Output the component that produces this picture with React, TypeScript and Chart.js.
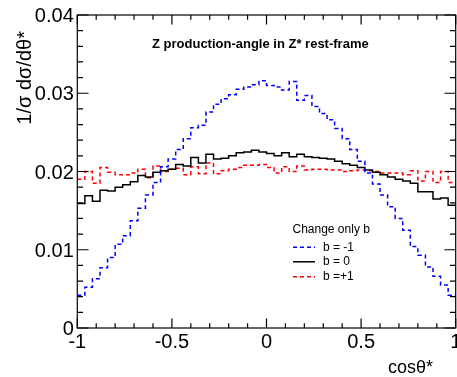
import React, { useEffect, useRef } from "react";
import { Chart, registerables } from "chart.js";

Chart.register(...registerables);

// ---------- data ----------
const X_MIN = -1;
const BIN_WIDTH = 0.04;

const blueValues = [
  0.0042, 0.0052, 0.0063, 0.0077, 0.009, 0.0107, 0.0118, 0.0137, 0.0153, 0.017,
  0.0186, 0.0206, 0.0216, 0.0228, 0.0242, 0.0256, 0.0259, 0.0276, 0.0286, 0.0293,
  0.0298, 0.0305, 0.0308, 0.0311, 0.0316, 0.031, 0.0308, 0.0304, 0.0315, 0.0291,
  0.0297, 0.0283, 0.0274, 0.0266, 0.0255, 0.0242, 0.0228, 0.0213, 0.0198, 0.0184,
  0.017, 0.0155, 0.014, 0.0125, 0.0104, 0.0093, 0.0078, 0.0066, 0.0055, 0.0042,
];

const blackValues = [
  0.0159, 0.0169, 0.0162, 0.0176, 0.0175, 0.018, 0.0183, 0.0187, 0.0195, 0.0193,
  0.0199, 0.0201, 0.0203, 0.0209, 0.0207, 0.0218, 0.0211, 0.0222, 0.0216, 0.0217,
  0.022, 0.0224, 0.0225, 0.0227, 0.0225, 0.0223, 0.022, 0.0224, 0.0219, 0.0222,
  0.0219, 0.0218, 0.0217, 0.0216, 0.0213, 0.021, 0.0208, 0.0205, 0.0202, 0.0199,
  0.0196, 0.0193, 0.019, 0.0188, 0.0185, 0.0174, 0.0174, 0.0165, 0.0166, 0.0157,
];

const redValues = [
  0.019, 0.02, 0.0185, 0.0205, 0.0199, 0.0196, 0.0196, 0.0198, 0.0203, 0.0192,
  0.0207, 0.02, 0.0203, 0.0204, 0.0196, 0.0206, 0.0197, 0.0211, 0.0197, 0.0201,
  0.0203, 0.0205, 0.0208, 0.0208, 0.0209, 0.0205, 0.0198, 0.0206, 0.02, 0.0207,
  0.0202, 0.0203, 0.0203, 0.0202, 0.0202, 0.02, 0.0201, 0.0202, 0.0201, 0.02,
  0.0198, 0.0198, 0.0198, 0.0196, 0.0201, 0.0188, 0.02, 0.0186, 0.02, 0.0186,
];

const xTickValues = [-1, -0.5, 0, 0.5, 1];
const xTickLabels = ["-1", "-0.5", "0", "0.5", "1"];
const yTickValues = [0, 0.01, 0.02, 0.03, 0.04];
const yTickLabels = ["0", "0.01", "0.02", "0.03", "0.04"];

const titleText = "Z production-angle in Z* rest-frame";
const xTitle = "cos\u03b8*";
const yTitle = "1/\u03c3 d\u03c3/d\u03b8*";
const legendHeader = "Change only b";
const seriesLabels = ["b = -1", "b = 0", "b =+1"];
const seriesColors = ["rgb(0,0,255)", "rgb(0,0,0)", "rgb(255,0,0)"];
const seriesDashes: number[][] = [[4, 3], [], [4, 3]];

function toSteps(values: number[]) {
  const pts = values.map((v, i) => ({ x: X_MIN + i * BIN_WIDTH, y: v }));
  pts.push({ x: X_MIN + values.length * BIN_WIDTH, y: values[values.length - 1] });
  return pts;
}

const FONT = '"Liberation Sans", Arial, Helvetica, sans-serif';

const decorPlugin = {
  id: "rootDecor",
  afterDraw(chart: any) {
    const ctx: CanvasRenderingContext2D = chart.ctx;
    const { left, right, top, bottom } = chart.chartArea;
    const xs = chart.scales.x;
    const ys = chart.scales.y;
    ctx.save();
    ctx.strokeStyle = "#000";
    ctx.fillStyle = "#000";
    ctx.lineWidth = 1.2;
    ctx.setLineDash([]);
    // frame
    ctx.strokeRect(left, top, right - left, bottom - top);
    // x ticks (bottom + top)
    ctx.beginPath();
    for (let k = 0; k <= 20; k++) {
      const v = -1 + k * 0.1;
      const px = xs.getPixelForValue(v);
      const len = k % 5 === 0 ? 9.4 : 4.7;
      ctx.moveTo(px, bottom);
      ctx.lineTo(px, bottom - len);
      ctx.moveTo(px, top);
      ctx.lineTo(px, top + len);
    }
    // y ticks (left + right)
    for (let k = 0; k <= 20; k++) {
      const v = k * 0.002;
      const py = ys.getPixelForValue(v);
      const len = k % 5 === 0 ? 11.3 : 5.7;
      ctx.moveTo(left, py);
      ctx.lineTo(left + len, py);
      ctx.moveTo(right, py);
      ctx.lineTo(right - len, py);
    }
    ctx.stroke();

    // tick labels
    ctx.font = `20px ${FONT}`;
    ctx.textBaseline = "alphabetic";
    ctx.textAlign = "center";
    xTickValues.forEach((v, i) => {
      ctx.fillText(xTickLabels[i], xs.getPixelForValue(v), bottom + 20);
    });
    ctx.textAlign = "right";
    yTickValues.forEach((v, i) => {
      ctx.fillText(yTickLabels[i], left - 3.5, ys.getPixelForValue(v) + 7);
    });

    // axis titles
    ctx.font = `18px ${FONT}`;
    ctx.textAlign = "right";
    ctx.fillText(xTitle, 433, 373);
    ctx.save();
    ctx.font = `20px ${FONT}`;
    ctx.translate(30.5, 31);
    ctx.rotate(-Math.PI / 2);
    ctx.textAlign = "right";
    ctx.fillText(yTitle, 0, 0);
    ctx.restore();

    // title
    ctx.font = `bold 13px ${FONT}`;
    ctx.textAlign = "left";
    ctx.fillText(titleText, 152, 47.5);

    // legend
    ctx.font = `12px ${FONT}`;
    ctx.fillText(legendHeader, 292.5, 232.5);
    const rows = [247.2, 261.8, 276.7];
    rows.forEach((ry, i) => {
      ctx.strokeStyle = seriesColors[i];
      ctx.lineWidth = 1.5;
      ctx.setLineDash(seriesDashes[i]);
      ctx.beginPath();
      ctx.moveTo(293, ry);
      ctx.lineTo(315, ry);
      ctx.stroke();
      ctx.setLineDash([]);
      ctx.textBaseline = "middle";
      ctx.fillStyle = "#000";
      ctx.fillText(seriesLabels[i], 323, ry);
    });
    ctx.restore();
  },
};

export default function App() {
  const canvasRef = useRef<HTMLCanvasElement | null>(null);

  useEffect(() => {
    if (!canvasRef.current) return;
    const seriesValues = [blueValues, blackValues, redValues];
    const chart = new Chart(canvasRef.current, {
      type: "line",
      data: {
        datasets: seriesValues.map((vals, i) => ({
          label: seriesLabels[i],
          data: toSteps(vals),
          stepped: true,
          borderColor: seriesColors[i],
          borderWidth: 1.5,
          borderDash: seriesDashes[i],
          fill: false,
          pointRadius: 0,
          tension: 0,
        })),
      },
      options: {
        animation: false,
        responsive: false,
        devicePixelRatio: 1,
        layout: { padding: { left: 77.3, right: 1.3, top: 15, bottom: 49 } },
        scales: {
          x: { type: "linear", min: -1, max: 1, display: false },
          y: { type: "linear", min: 0, max: 0.04, display: false },
        },
        plugins: {
          legend: { display: false },
          tooltip: { enabled: false },
        },
      },
      plugins: [decorPlugin],
    } as any);
    return () => chart.destroy();
  }, []);

  return (
    <div style={{ position: "absolute", left: 0, top: 0, width: 457, height: 377, background: "#fff" }}>
      <canvas ref={canvasRef} width={457} height={377} style={{ display: "block" }} />
    </div>
  );
}
